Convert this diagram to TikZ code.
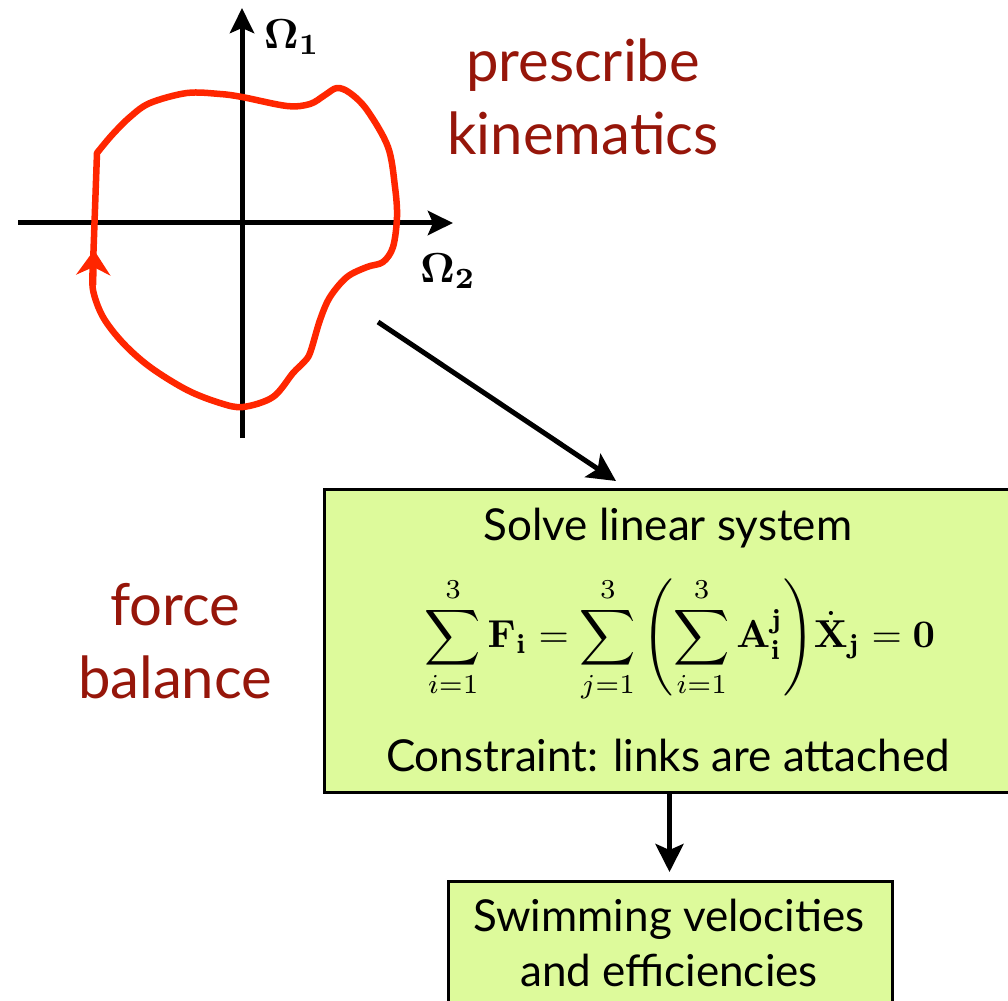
\documentclass[tikz,border=0pt]{standalone}
\usepackage[no-math]{fontspec}
\newfontfamily\gillfont{Lato}
\usepackage{tikz}
\usetikzlibrary{arrows.meta,positioning,calc}
\definecolor{curvered}{RGB}{255,38,0}
\definecolor{labelred}{RGB}{150,22,10}
\definecolor{boxgreen}{RGB}{221,250,155}
\tikzset{
    axisarrow/.style={-{Stealth[length=25pt,width=24pt,inset=5pt]}, line width=5pt},
    flowarrow/.style={-{Stealth[length=28pt,width=28pt,inset=6pt]}, line width=5pt},
    loopline/.style={draw=curvered, line width=6.5pt, line join=round},
    redtext/.style={text=labelred, align=center, font=\gillfont\fontsize{58}{73}\selectfont},
    stepbox/.style={draw, line width=3pt, fill=boxgreen, anchor=north west},
    boxtext/.style={align=center, inner sep=0pt, font=\gillfont\fontsize{44}{55}\selectfont},
    mathbig/.style={scale=#1, transform shape, inner sep=0pt}
}

\begin{document}
\begin{tikzpicture}[x=1pt, y=-1pt]
\useasboundingbox (0,0) rectangle (1008,1000);
% phase plane
\draw[axisarrow] (242,438) -- (242,8);
\draw[axisarrow] (18,223) -- (453,223);
\node[mathbig=4.2] (omegaone) at (292,37) {$\mathbf{\Omega_1}$};
\node[mathbig=4.2] (omegatwo) at (448,271) {$\mathbf{\Omega_2}$};
% stroke loop
\draw[loopline] plot[smooth, tension=0.55] coordinates {(97,153) (112,135) (130,117)
    (150,103) (187,93) (220,94) (242,97) (287,106) (310,104) (325,95) (337,88)
    (350,93) (367,110) (388,147) (395,187) (397,217) (393,247) (383,262) (367,267)
    (347,277) (330,297) (320,320) (310,353) (303,363) (293,373) (273,397) (243,407)
    (220,403) (187,390) (150,367) (123,343) (103,317) (93,290) (93,265)} -- cycle;
\draw[curvered, line width=6.5pt, -{Stealth[length=25pt,width=34pt,inset=8pt]}] (93,285) -- (94,250);
\node[redtext] (kinematics) at (583,97) {prescribe\\kinematics};
\node[redtext] (forcebal) at (175,641) {force\\balance};
% flow boxes
\node[stepbox, minimum width=690pt, minimum height=303pt] (solve) at (323,488) {};
\node[boxtext] (solvetitle) at (668,528) {Solve linear system};
\node[mathbig=3.9] (balanceeq) at (680,640)
    {$\displaystyle\sum_{i=1}^{3}\mathbf{F_i}=\sum_{j=1}^{3}\left(\sum_{i=1}^{3}\mathbf{A_i^j}\right)\!\dot{\mathbf{X}}_{\mathbf{j}}=\mathbf{0}$};
\node[boxtext] (constraint) at (668,755) {Constraint: links are attached};
\node[stepbox, minimum width=444pt, minimum height=160pt] (result) at (447,880) {};
\node[boxtext] (resulttext) at (669,943) {Swimming velocities\\and efficiencies};
\coordinate (loopexit) at (378,322);
\coordinate (boxentry) at (616,481);
\draw[flowarrow] (loopexit) -- (boxentry);
\draw[flowarrow, shorten >=8pt] (solve.south) -- (solve.south |- result.north);
\end{tikzpicture}
\end{document}
